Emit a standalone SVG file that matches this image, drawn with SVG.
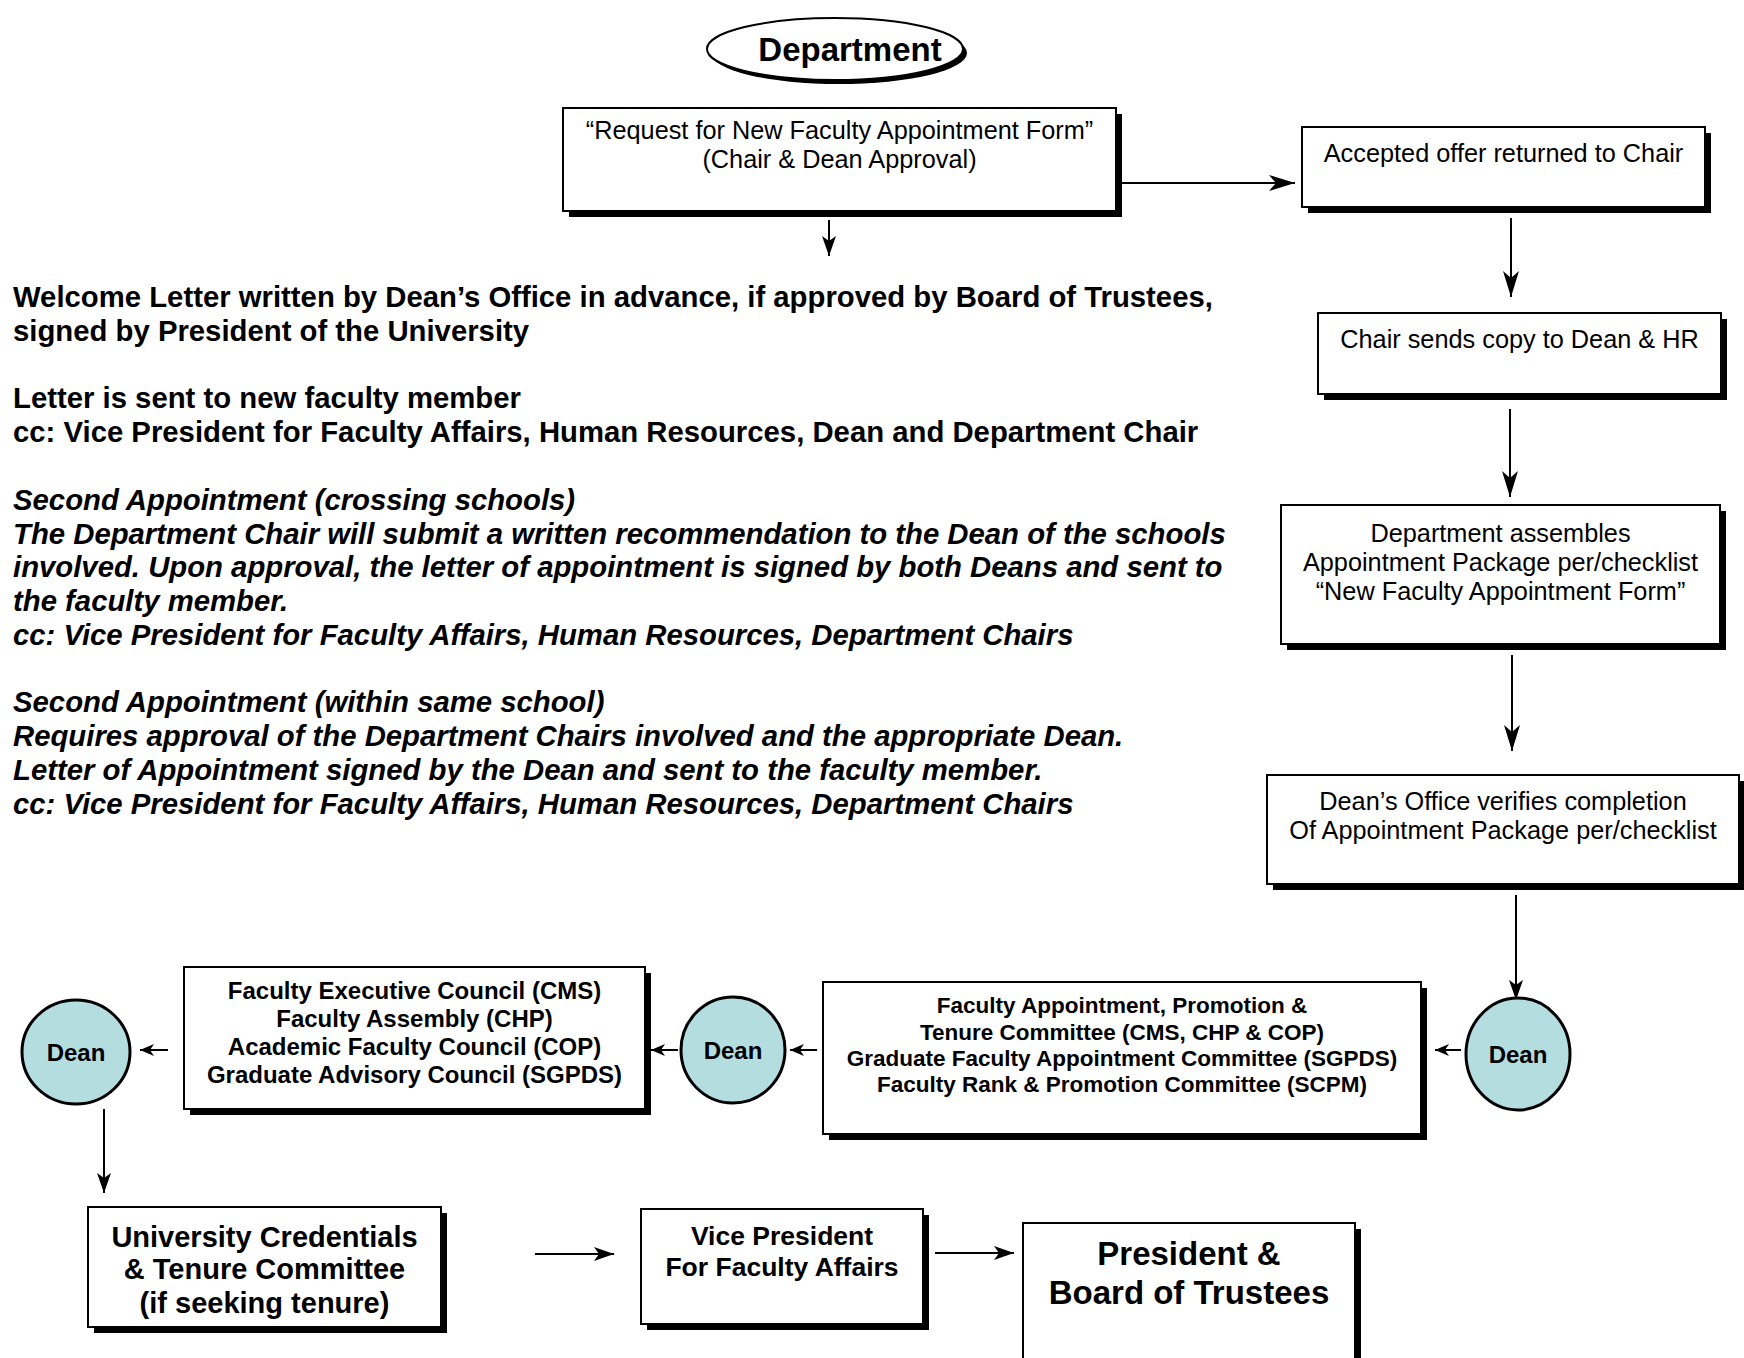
<svg xmlns="http://www.w3.org/2000/svg" width="1744" height="1358" viewBox="0 0 1744 1358">
<defs>
<style>
.sh{fill:#000}
.box{fill:#fff;stroke:#000;stroke-width:2}
.dean{fill:#b4dde0;stroke:#000;stroke-width:3}
.t{font-family:"Liberation Sans",Arial,Helvetica,sans-serif;fill:#000;text-anchor:middle}
.r{font-size:25.3px}
.b{font-weight:bold}
.lt{font-family:"Liberation Sans",Arial,Helvetica,sans-serif;font-weight:bold;font-size:29.3px;fill:#000}
.it{font-style:italic}
.conn line{stroke:#000;stroke-width:2;fill:none}
</style>
<marker id="ah" markerUnits="userSpaceOnUse" markerWidth="26" markerHeight="16" viewBox="0 0 26 16" refX="26" refY="8" orient="auto"><path d="M0,0 L26,8 L0,16 L7,8 Z" fill="#000"/></marker>
<marker id="am" markerUnits="userSpaceOnUse" markerWidth="20" markerHeight="14" viewBox="0 0 20 14" refX="20" refY="7" orient="auto"><path d="M0,0 L20,7 L0,14 L5,7 Z" fill="#000"/></marker>
<marker id="as" markerUnits="userSpaceOnUse" markerWidth="14" markerHeight="12" viewBox="0 0 14 12" refX="14" refY="6" orient="auto"><path d="M0,0 L14,6 L0,12 L4,6 Z" fill="#000"/></marker>
</defs>
<rect x="0" y="0" width="1744" height="1358" fill="#fff"/>

<g id="connectors" class="conn">
<line x1="1116" y1="183" x2="1295" y2="183" marker-end="url(#ah)"/>
<line x1="829" y1="220" x2="829" y2="256" marker-end="url(#am)"/>
<line x1="1511" y1="218" x2="1511" y2="297" marker-end="url(#ah)"/>
<line x1="1510" y1="409" x2="1510" y2="497" marker-end="url(#ah)"/>
<line x1="1512" y1="655" x2="1512" y2="751" marker-end="url(#ah)"/>
<line x1="1516" y1="895" x2="1516" y2="1000" marker-end="url(#am)"/>
<line x1="1461" y1="1050" x2="1435" y2="1050" marker-end="url(#as)"/>
<line x1="817" y1="1050" x2="790" y2="1050" marker-end="url(#as)"/>
<line x1="678" y1="1050" x2="651" y2="1050" marker-end="url(#as)"/>
<line x1="168" y1="1050" x2="140" y2="1050" marker-end="url(#as)"/>
<line x1="104" y1="1109" x2="104" y2="1193" marker-end="url(#am)"/>
<line x1="535" y1="1254" x2="614" y2="1254" marker-end="url(#am)"/>
<line x1="935" y1="1253" x2="1014" y2="1253" marker-end="url(#am)"/>
</g>

<g id="department">
<ellipse class="sh" cx="839" cy="53" rx="128" ry="31"/>
<ellipse class="box" cx="835" cy="49" rx="128" ry="31"/>
<text class="t b" x="850" y="61" font-size="33">Department</text>
</g>

<g id="request">
<rect class="sh" x="569" y="114" width="553" height="103"/>
<rect class="box" x="563" y="108" width="553" height="103"/>
<text class="t r" x="839.5" y="139">“Request for New Faculty Appointment Form”</text>
<text class="t r" x="839.5" y="168">(Chair &amp; Dean Approval)</text>
</g>

<g id="accepted">
<rect class="sh" x="1308" y="133" width="403" height="80"/>
<rect class="box" x="1302" y="127" width="403" height="80"/>
<text class="t r" x="1503.5" y="162">Accepted offer returned to Chair</text>
</g>

<g id="chair-sends">
<rect class="sh" x="1324" y="319" width="403" height="81"/>
<rect class="box" x="1318" y="313" width="403" height="81"/>
<text class="t r" x="1519.5" y="348">Chair sends copy to Dean &amp; HR</text>
</g>

<g id="dept-assembles">
<rect class="sh" x="1287" y="511" width="439" height="139"/>
<rect class="box" x="1281" y="505" width="439" height="139"/>
<text class="t r" x="1500.5" y="542">Department assembles</text>
<text class="t r" x="1500.5" y="571">Appointment Package per/checklist</text>
<text class="t r" x="1500.5" y="600">“New Faculty Appointment Form”</text>
</g>

<g id="deans-office">
<rect class="sh" x="1273" y="781" width="472" height="109"/>
<rect class="box" x="1267" y="775" width="472" height="109"/>
<text class="t r" x="1503" y="810">Dean’s Office verifies completion</text>
<text class="t r" x="1503" y="839">Of Appointment Package per/checklist</text>
</g>

<g id="dean-right">
<ellipse class="dean" cx="1518" cy="1054" rx="52" ry="56"/>
<text class="t b" x="1518" y="1063" font-size="24">Dean</text>
</g>

<g id="committee">
<rect class="sh" x="829" y="988" width="598" height="152"/>
<rect class="box" x="823" y="982" width="598" height="152"/>
<text class="t b" x="1122" y="1013" font-size="22.5">Faculty Appointment, Promotion &amp;</text>
<text class="t b" x="1122" y="1040" font-size="22.5">Tenure Committee (CMS, CHP &amp; COP)</text>
<text class="t b" x="1122" y="1066" font-size="22.5">Graduate Faculty Appointment Committee (SGPDS)</text>
<text class="t b" x="1122" y="1092" font-size="22.5">Faculty Rank &amp; Promotion Committee (SCPM)</text>
</g>

<g id="dean-middle">
<ellipse class="dean" cx="733" cy="1050" rx="52" ry="53"/>
<text class="t b" x="733" y="1059" font-size="24">Dean</text>
</g>

<g id="council">
<rect class="sh" x="190" y="973" width="461" height="142"/>
<rect class="box" x="184" y="967" width="461" height="142"/>
<text class="t b" x="414.5" y="999" font-size="24">Faculty Executive Council (CMS)</text>
<text class="t b" x="414.5" y="1027" font-size="24">Faculty Assembly (CHP)</text>
<text class="t b" x="414.5" y="1055" font-size="24">Academic Faculty Council (COP)</text>
<text class="t b" x="414.5" y="1083" font-size="24">Graduate Advisory Council (SGPDS)</text>
</g>

<g id="dean-left">
<ellipse class="dean" cx="76" cy="1052" rx="54" ry="52"/>
<text class="t b" x="76" y="1061" font-size="24">Dean</text>
</g>

<g id="university">
<rect class="sh" x="94" y="1213" width="353" height="120"/>
<rect class="box" x="88" y="1207" width="353" height="120"/>
<text class="t b" x="264.5" y="1247" font-size="29">University Credentials</text>
<text class="t b" x="264.5" y="1279" font-size="29">&amp; Tenure Committee</text>
<text class="t b" x="264.5" y="1313" font-size="29">(if seeking tenure)</text>
</g>

<g id="vice-president">
<rect class="sh" x="647" y="1215" width="282" height="115"/>
<rect class="box" x="641" y="1209" width="282" height="115"/>
<text class="t b" x="782" y="1245" font-size="26.5">Vice President</text>
<text class="t b" x="782" y="1276" font-size="26.5">For Faculty Affairs</text>
</g>

<g id="president">
<rect class="sh" x="1029" y="1229" width="332" height="150"/>
<rect class="box" x="1023" y="1223" width="332" height="150"/>
<text class="t b" x="1189" y="1265" font-size="33">President &amp;</text>
<text class="t b" x="1189" y="1304" font-size="33">Board of Trustees</text>
</g>

<g id="notes">
<text class="lt" x="13" y="307">Welcome Letter written by Dean’s Office in advance, if approved by Board of Trustees,</text>
<text class="lt" x="13" y="341">signed by President of the University</text>
<text class="lt" x="13" y="408">Letter is sent to new faculty member</text>
<text class="lt" x="13" y="442">cc: Vice President for Faculty Affairs, Human Resources, Dean and Department Chair</text>
<text class="lt it" x="13" y="510">Second Appointment (crossing schools)</text>
<text class="lt it" x="13" y="544">The Department Chair will submit a written recommendation to the Dean of the schools</text>
<text class="lt it" x="13" y="577">involved. Upon approval, the letter of appointment is signed by both Deans and sent to</text>
<text class="lt it" x="13" y="611">the faculty member.</text>
<text class="lt it" x="13" y="645">cc: Vice President for Faculty Affairs, Human Resources, Department Chairs</text>
<text class="lt it" x="13" y="712">Second Appointment (within same school)</text>
<text class="lt it" x="13" y="746">Requires approval of the Department Chairs involved and the appropriate Dean.</text>
<text class="lt it" x="13" y="780">Letter of Appointment signed by the Dean and sent to the faculty member.</text>
<text class="lt it" x="13" y="814">cc: Vice President for Faculty Affairs, Human Resources, Department Chairs</text>
</g>
</svg>
